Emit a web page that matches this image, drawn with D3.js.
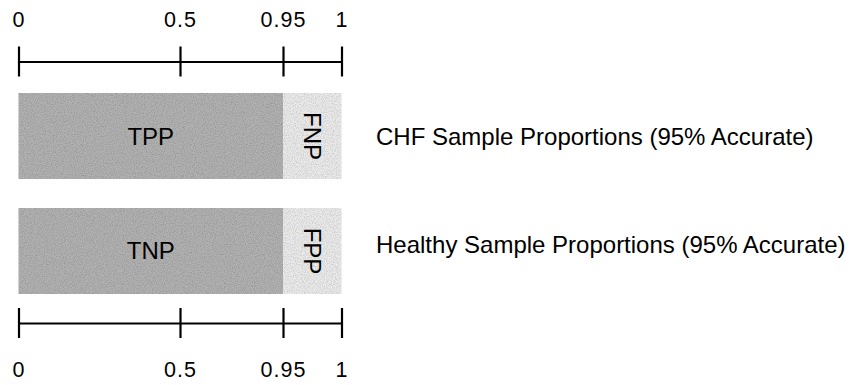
<!DOCTYPE html>
<html>
<head>
<meta charset="utf-8">
<script src="https://cdn.jsdelivr.net/npm/d3@7"></script>
<style>
  html, body { margin: 0; padding: 0; background: #fff; }
  svg { display: block; font-family: "Liberation Sans", Arial, Helvetica, sans-serif; }
</style>
</head>
<body>
<svg id="chart" width="856" height="385"></svg>
<script>
// Proportion scale: tick positions and their labels
const tickValues = [0, 0.5, 0.95, 1];
const tickLabels = ["0", "0.5", "0.95", "1"];

// One row per sample group
const rowNames = ["CHF Sample Proportions (95% Accurate)", "Healthy Sample Proportions (95% Accurate)"];
const correctLabels = ["TPP", "TNP"];
const errorLabels = ["FNP", "FPP"];
const correctShare = [0.95, 0.95];
const errorShare = [0.05, 0.05];

const svg = d3.select("#chart");

// Schematic (piecewise) scale: each tick gets its own slot along the bar
const x = d3.scaleLinear()
  .domain(tickValues)
  .range([18.5, 180, 283, 341.5]);

const y = d3.scaleBand()
  .domain(rowNames)
  .range([93, 294])
  .paddingInner(0.252);

// Grain filter for the halftone look of the bars
const defs = svg.append("defs");
const grain = defs.append("filter").attr("id", "grain")
  .attr("x", 0).attr("y", 0).attr("width", 1).attr("height", 1);
grain.append("feTurbulence").attr("type", "fractalNoise")
  .attr("baseFrequency", 0.9).attr("numOctaves", 2).attr("seed", 3).attr("result", "noise");
grain.append("feColorMatrix").attr("in", "noise").attr("type", "matrix")
  .attr("values", "0 0 0 0 0  0 0 0 0 0  0 0 0 0 0  0 0 0 -1.6 1.05")
  .attr("result", "dots");
grain.append("feComposite").attr("in", "dots").attr("in2", "SourceGraphic")
  .attr("operator", "in").attr("result", "dotsIn");
grain.append("feComponentTransfer").attr("in", "dotsIn").attr("result", "dotsSoft")
  .append("feFuncA").attr("type", "linear").attr("slope", 0.4);
const merge = grain.append("feMerge");
merge.append("feMergeNode").attr("in", "SourceGraphic");
merge.append("feMergeNode").attr("in", "dotsSoft");

const rows = rowNames.map((name, i) => ({
  name,
  correct: correctShare[i],
  error: errorShare[i],
  correctLabel: correctLabels[i],
  errorLabel: errorLabels[i]
}));

const row = svg.selectAll("g.row")
  .data(rows)
  .join("g")
  .attr("class", "row");

// Correct-classification segment
row.append("rect")
  .attr("x", x(0))
  .attr("y", d => y(d.name))
  .attr("width", d => x(d.correct) - x(0))
  .attr("height", y.bandwidth())
  .attr("fill", "#b2b2b2")
  .attr("filter", "url(#grain)");

// Misclassification segment
row.append("rect")
  .attr("x", d => x(d.correct))
  .attr("y", d => y(d.name))
  .attr("width", d => x(d.correct + d.error) - x(d.correct))
  .attr("height", y.bandwidth())
  .attr("fill", "#ececec")
  .attr("filter", "url(#grain)");

row.append("text")
  .attr("x", d => (x(0) + x(d.correct)) / 2)
  .attr("y", d => y(d.name) + y.bandwidth() / 2)
  .attr("text-anchor", "middle")
  .attr("dominant-baseline", "central")
  .attr("font-size", 24)
  .attr("fill", "#000")
  .text(d => d.correctLabel);

// Narrow-segment labels run down the bar
row.append("text")
  .attr("transform", d => {
    const cx = (x(d.correct) + x(d.correct + d.error)) / 2;
    const cy = y(d.name) + y.bandwidth() / 2;
    return `translate(${cx},${cy}) rotate(90)`;
  })
  .attr("text-anchor", "middle")
  .attr("dominant-baseline", "central")
  .attr("font-size", 24)
  .attr("fill", "#000")
  .text(d => d.errorLabel);

// Row captions to the right of the bars
const captionNudge = [0.5, -6];
row.append("text")
  .attr("x", 376)
  .attr("y", (d, i) => y(d.name) + y.bandwidth() / 2 + captionNudge[i])
  .attr("dominant-baseline", "central")
  .attr("font-size", 24)
  .attr("fill", "#000")
  .text(d => d.name);

// Axes above and below the bars
function drawAxis(axisFn, yPos, labelY) {
  const g = svg.append("g")
    .attr("transform", `translate(0,${yPos})`)
    .call(axisFn(x)
      .tickValues(tickValues)
      .tickFormat((d, i) => tickLabels[i])
      .tickSizeOuter(0));
  g.select(".domain").attr("stroke", "#000").attr("stroke-width", 2);
  g.selectAll(".tick line")
    .attr("y1", -15).attr("y2", 15)
    .attr("stroke", "#000").attr("stroke-width", 2.2);
  g.selectAll(".tick text")
    .attr("y", labelY)
    .attr("dy", null)
    .attr("font-size", 21.5)
    .attr("letter-spacing", 1)
    .attr("font-family", "\"Liberation Sans\", Arial, Helvetica, sans-serif")
    .attr("fill", "#000");
  return g;
}

drawAxis(d3.axisTop, 61.5, -34.5);
drawAxis(d3.axisBottom, 323, 54);
</script>
</body>
</html>
